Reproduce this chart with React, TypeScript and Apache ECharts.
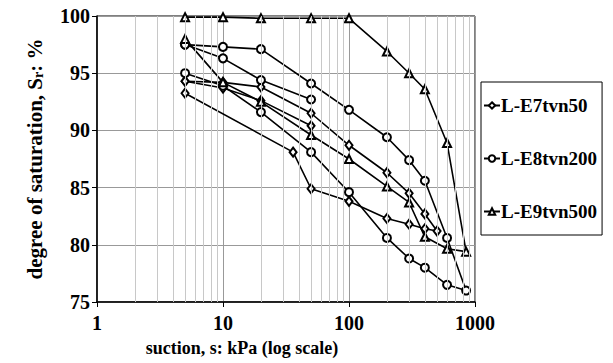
import { useEffect, useRef } from "react";
import * as echarts from "echarts";

const FONT = "Liberation Serif";

// Axis ranges and grid lines
const yTicks = [75, 80, 85, 90, 95, 100];
const minorGridX = [2, 3, 4, 5, 6, 7, 8, 9, 20, 30, 40, 50, 60, 70, 80, 90, 200, 300, 400, 500, 600, 700, 800, 900];

const seriesNames = ["L-E7tvn50", "L-E8tvn200", "L-E9tvn500"];

// L-E7tvn50: drying then wetting path
const e7MainSuction = [5, 10, 20, 50, 100, 200, 300, 400, 500, 400, 300, 200, 100, 50, 36, 5];
const e7MainSr = [94.3, 94.2, 93.8, 91.5, 88.7, 86.3, 84.5, 82.7, 81.2, 81.4, 81.8, 82.3, 83.8, 84.9, 88.1, 93.25];
// L-E7tvn50: short path
const e7ShortSuction = [5, 10, 20, 50];
const e7ShortSr = [94.3, 93.7, 92.6, 90.4];

// L-E8tvn200: drying then wetting path
const e8MainSuction = [5, 10, 20, 50, 100, 200, 300, 400, 600, 850, 600, 400, 300, 200, 100, 50, 20, 10, 5];
const e8MainSr = [97.5, 97.3, 97.1, 94.1, 91.8, 89.4, 87.4, 85.6, 80.6, 76.0, 76.5, 78.0, 78.8, 80.6, 84.6, 88.1, 91.6, 93.9, 95.0];
// L-E8tvn200: short path
const e8ShortSuction = [5, 10, 20, 50];
const e8ShortSr = [97.5, 96.3, 94.4, 92.7];

// L-E9tvn500: drying then wetting path
const e9MainSuction = [5, 10, 20, 50, 100, 200, 300, 400, 600, 850, 600, 400, 300, 200, 100, 50, 20, 10, 5];
const e9MainSr = [99.9, 99.9, 99.8, 99.8, 99.8, 96.9, 95.0, 93.6, 88.9, 79.4, 79.65, 80.7, 83.7, 85.1, 87.5, 89.6, 92.5, 94.2, 98.0];

const pair = (xs: number[], ys: number[]) => xs.map((x, i) => [x, ys[i]]);

function pathSeries(name: string, symbol: string, symbolSize: number | number[], xs: number[], ys: number[]) {
  return {
    type: "line",
    name,
    data: pair(xs, ys),
    symbol,
    symbolSize,
    showAllSymbol: true,
    lineStyle: { color: "#000", width: 1.6 },
    itemStyle: { color: "#000", borderColor: "#000", borderWidth: 1 },
    emphasis: { disabled: true },
    z: 3,
  };
}

export default function App() {
  const ref = useRef<HTMLDivElement>(null);

  useEffect(() => {
    if (!ref.current) return;
    const chart = echarts.init(ref.current, null, { renderer: "svg" });
    const boldText = { fontFamily: FONT, fontWeight: "bold", color: "#000" };

    chart.setOption({
      animation: false,
      backgroundColor: "#fff",
      grid: {
        left: 97,
        right: 138,
        top: 16,
        bottom: 61,
        show: true,
        borderColor: "#000",
        borderWidth: 1,
        backgroundColor: "transparent",
      },
      legend: {
        data: seriesNames,
        orient: "vertical",
        left: 481,
        top: 82,
        padding: [14, 5, 14, 2],
        itemGap: 34,
        itemWidth: 16,
        itemHeight: 8,
        borderColor: "#000",
        borderWidth: 1,
        backgroundColor: "#fff",
        selectedMode: false,
        textStyle: { ...boldText, fontSize: 19, padding: [0, 0, 0, -4] },
      },
      xAxis: {
        type: "log",
        logBase: 10,
        min: 1,
        max: 1000,
        name: "suction, s: kPa (log scale)",
        nameLocation: "middle",
        nameGap: 37,
        nameTextStyle: { ...boldText, fontSize: 18, padding: [0, 88, 0, 0] },
        axisLine: { show: true, onZero: false, lineStyle: { color: "#000", width: 1.5 } },
        axisTick: { show: true, inside: false, length: 5, lineStyle: { color: "#000" } },
        axisLabel: { ...boldText, fontSize: 20, margin: 11, formatter: (v: number) => String(Math.round(v)) },
        splitLine: { show: true, lineStyle: { color: "#999", width: 1 } },
      },
      yAxis: {
        type: "value",
        min: yTicks[0],
        max: yTicks[yTicks.length - 1],
        interval: 5,
        name: "{t|degree of saturation, S}{sub|r}{t|: %}",
        nameLocation: "middle",
        nameGap: 52,
        nameRotate: 90,
        nameTextStyle: {
          ...boldText,
          fontSize: 21,
          rich: {
            t: { ...boldText, fontSize: 21 },
            sub: { ...boldText, fontSize: 14, verticalAlign: "bottom" },
          },
        },
        axisLine: { show: true, lineStyle: { color: "#000", width: 1.5 } },
        axisTick: { show: true, inside: false, length: 5, lineStyle: { color: "#000" } },
        axisLabel: { ...boldText, fontSize: 20, margin: 7 },
        splitLine: { show: true, lineStyle: { color: "#999", width: 1 } },
      },
      series: [
        {
          type: "line",
          name: "minor-grid",
          data: [],
          silent: true,
          z: 1,
          markLine: {
            silent: true,
            symbol: ["none", "none"],
            label: { show: false },
            lineStyle: { color: "#c8c8c8", width: 1, type: "solid" },
            data: minorGridX.map((v) => ({ xAxis: v })),
          },
        },
        pathSeries(seriesNames[0], "emptyDiamond", [7, 9], e7MainSuction, e7MainSr),
        pathSeries(seriesNames[0], "emptyDiamond", [7, 9], e7ShortSuction, e7ShortSr),
        pathSeries(seriesNames[1], "emptyCircle", 8, e8MainSuction, e8MainSr),
        pathSeries(seriesNames[1], "emptyCircle", 8, e8ShortSuction, e8ShortSr),
        pathSeries(seriesNames[2], "emptyTriangle", 8, e9MainSuction, e9MainSr),
      ],
    });

    return () => chart.dispose();
  }, []);

  return (
    <div
      ref={ref}
      style={{ position: "fixed", left: 0, top: 0, width: 613, height: 363, background: "#fff" }}
    />
  );
}
